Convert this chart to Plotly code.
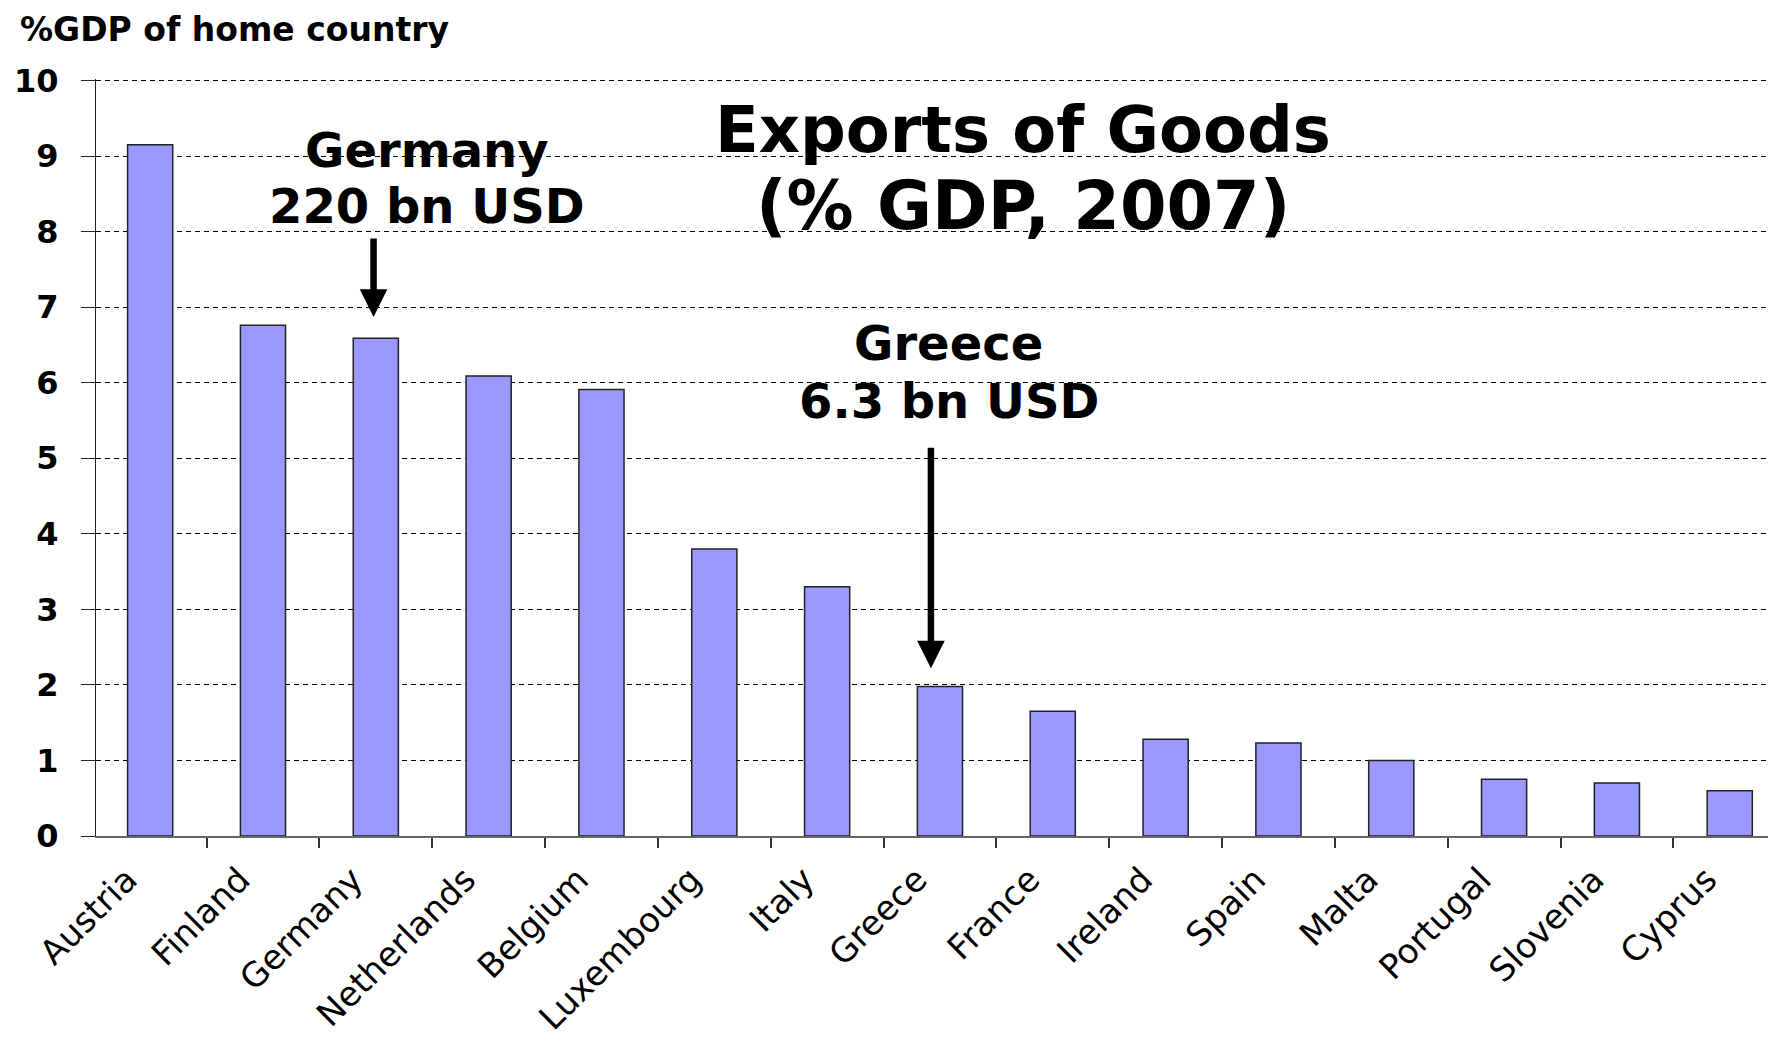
import plotly.graph_objects as go

countries = ["Austria", "Finland", "Germany", "Netherlands", "Belgium", "Luxembourg",
             "Italy", "Greece", "France", "Ireland", "Spain", "Malta", "Portugal",
             "Slovenia", "Cyprus"]
exports_pct_gdp = [9.15, 6.76, 6.59, 6.09, 5.91, 3.80, 3.30, 1.98, 1.65, 1.28, 1.23,
                   1.00, 0.75, 0.70, 0.60]
y_ticks = [0, 1, 2, 3, 4, 5, 6, 7, 8, 9, 10]

FONT = "DejaVu Sans"

fig = go.Figure()
fig.add_trace(go.Bar(
    x=countries, y=exports_pct_gdp, width=0.4,
    marker=dict(color="#9999FF", line=dict(color="#222222", width=1.5)),
))

annotations = []
# y-axis title (box top aligned with the top of the figure)
annotations.append(dict(text="%GDP of home country", xref="paper", yref="paper",
                        x=0, y=1, xanchor="left", yanchor="top", xshift=-78, yshift=71,
                        showarrow=False, font=dict(family=FONT, size=33, color="black", weight="bold")))
# chart title
for txt, yv, sz in [("Exports of Goods", 9.35, 64), ("(% GDP, 2007)", 8.34, 67)]:
    annotations.append(dict(text=txt, xref="paper", yref="y", x=0.5515, y=yv,
                            xanchor="center", yanchor="middle", showarrow=False,
                            font=dict(family=FONT, size=sz, color="black", weight="bold")))
# Germany label
for txt, yv in [("Germany", 9.08), ("220 bn USD", 8.34)]:
    annotations.append(dict(text=txt, xref="x", yref="y", x=2.45, y=yv,
                            xanchor="center", yanchor="middle", showarrow=False,
                            font=dict(family=FONT, size=48, color="black", weight="bold")))
# Greece label
for txt, yv in [("Greece", 6.52), ("6.3 bn USD", 5.76)]:
    annotations.append(dict(text=txt, xref="x", yref="y", x=7.08, y=yv,
                            xanchor="center", yanchor="middle", showarrow=False,
                            font=dict(family=FONT, size=48, color="black", weight="bold")))
# arrows
for xt, ytip, ytail in [(1.98, 6.87, 7.93), (6.92, 2.22, 5.16)]:
    annotations.append(dict(text="", xref="x", yref="y", x=xt, y=ytip,
                            axref="x", ayref="y", ax=xt, ay=ytail,
                            showarrow=True, arrowhead=2, arrowsize=0.85, arrowwidth=6.5,
                            arrowcolor="black"))

# the page body adds an 8px offset, so the figure is sized to fill the rest of the window
fig.update_layout(
    width=1768, height=1033,
    margin=dict(l=88, r=0, t=71, b=205),
    paper_bgcolor="white", plot_bgcolor="white",
    showlegend=False,
    annotations=annotations,
    xaxis=dict(type="category", range=[-0.48, 14.41], showgrid=False, automargin=False,
               showline=True, linecolor="#666666", linewidth=2,
               ticks="outside", tickson="boundaries", ticklen=10, tickcolor="#333333",
               tickwidth=1.5, tickangle=-45, ticklabelshift=-23, ticklabelstandoff=8,
               tickfont=dict(family=FONT, size=34, color="black")),
    yaxis=dict(range=[0, 10.02], tickvals=y_ticks, showgrid=True, gridcolor="black",
               gridwidth=1, griddash="5px,4px", zeroline=False, automargin=False,
               showline=True, linecolor="#222222", linewidth=1.2,
               ticks="outside", ticklen=14, tickcolor="#222222", tickwidth=1.2,
               ticklabelstandoff=16,
               tickfont=dict(family=FONT, size=32, color="black", weight="bold")),
)

fig.write_html("out.html")
